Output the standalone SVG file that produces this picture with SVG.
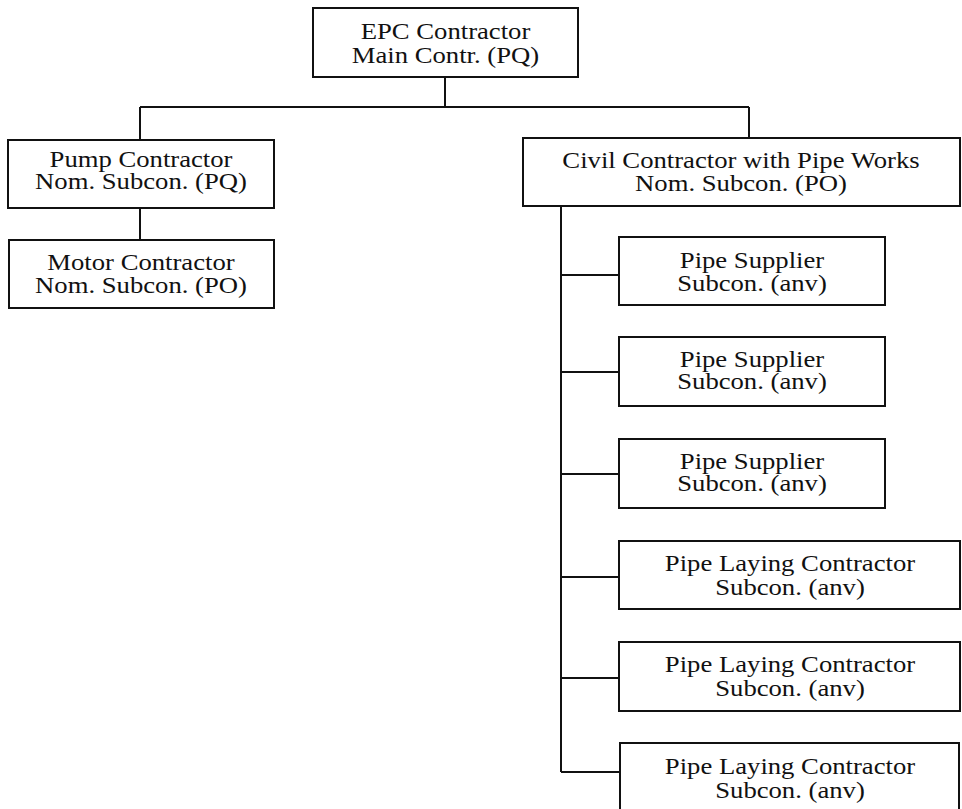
<svg xmlns="http://www.w3.org/2000/svg" width="962" height="809" viewBox="0 0 962 809">
<style>
.box{fill:#fff;stroke:#111;stroke-width:2}
.t{font-family:"Liberation Serif","Times New Roman",serif;font-size:23px;fill:#111;text-anchor:middle}
.c{stroke:#111;stroke-width:2;fill:none}
</style>
<rect width="962" height="809" fill="#fff"/>
<g id="connectors">
<path class="c" d="M445 77V107M140 107H749M140 107V140M749 107V138M140 208V240"/>
<path class="c" d="M561 206V772M561 275H619M561 372H619M561 474H619M561 577H619M561 678H619M561 772H620"/>
</g>
<g id="epc">
<rect class="box" x="313" y="8" width="265" height="69"/>
<text class="t" transform="matrix(1.16 0 0 1 445.5 0)" x="0" y="39">EPC Contractor</text>
<text class="t" transform="matrix(1.16 0 0 1 445.5 0)" x="0" y="63">Main Contr. (PQ)</text>
</g>
<g id="pump">
<rect class="box" x="8" y="140" width="266" height="68"/>
<text class="t" transform="matrix(1.16 0 0 1 141 0)" x="0" y="167">Pump Contractor</text>
<text class="t" transform="matrix(1.16 0 0 1 141 0)" x="0" y="189">Nom. Subcon. (PQ)</text>
</g>
<g id="motor">
<rect class="box" x="9" y="240" width="265" height="68"/>
<text class="t" transform="matrix(1.16 0 0 1 141 0)" x="0" y="270">Motor Contractor</text>
<text class="t" transform="matrix(1.16 0 0 1 141 0)" x="0" y="293">Nom. Subcon. (PO)</text>
</g>
<g id="civil">
<rect class="box" x="523" y="138" width="437" height="68"/>
<text class="t" transform="matrix(1.16 0 0 1 741 0)" x="0" y="168">Civil Contractor with Pipe Works</text>
<text class="t" transform="matrix(1.16 0 0 1 741 0)" x="0" y="191">Nom. Subcon. (PO)</text>
</g>
<g id="ps1">
<rect class="box" x="619" y="237" width="266" height="68"/>
<text class="t" transform="matrix(1.16 0 0 1 752 0)" x="0" y="268">Pipe Supplier</text>
<text class="t" transform="matrix(1.16 0 0 1 752 0)" x="0" y="291">Subcon. (anv)</text>
</g>
<g id="ps2">
<rect class="box" x="619" y="337" width="266" height="69"/>
<text class="t" transform="matrix(1.16 0 0 1 752 0)" x="0" y="367">Pipe Supplier</text>
<text class="t" transform="matrix(1.16 0 0 1 752 0)" x="0" y="389">Subcon. (anv)</text>
</g>
<g id="ps3">
<rect class="box" x="619" y="439" width="266" height="69"/>
<text class="t" transform="matrix(1.16 0 0 1 752 0)" x="0" y="469">Pipe Supplier</text>
<text class="t" transform="matrix(1.16 0 0 1 752 0)" x="0" y="491">Subcon. (anv)</text>
</g>
<g id="pl1">
<rect class="box" x="619" y="541" width="341" height="68"/>
<text class="t" transform="matrix(1.16 0 0 1 790 0)" x="0" y="571">Pipe Laying Contractor</text>
<text class="t" transform="matrix(1.16 0 0 1 790 0)" x="0" y="595">Subcon. (anv)</text>
</g>
<g id="pl2">
<rect class="box" x="619" y="642" width="341" height="69"/>
<text class="t" transform="matrix(1.16 0 0 1 790 0)" x="0" y="672">Pipe Laying Contractor</text>
<text class="t" transform="matrix(1.16 0 0 1 790 0)" x="0" y="696">Subcon. (anv)</text>
</g>
<g id="pl3">
<rect class="box" x="620" y="743" width="339" height="70"/>
<text class="t" transform="matrix(1.16 0 0 1 790 0)" x="0" y="774">Pipe Laying Contractor</text>
<text class="t" transform="matrix(1.16 0 0 1 790 0)" x="0" y="798">Subcon. (anv)</text>
</g>
</svg>
